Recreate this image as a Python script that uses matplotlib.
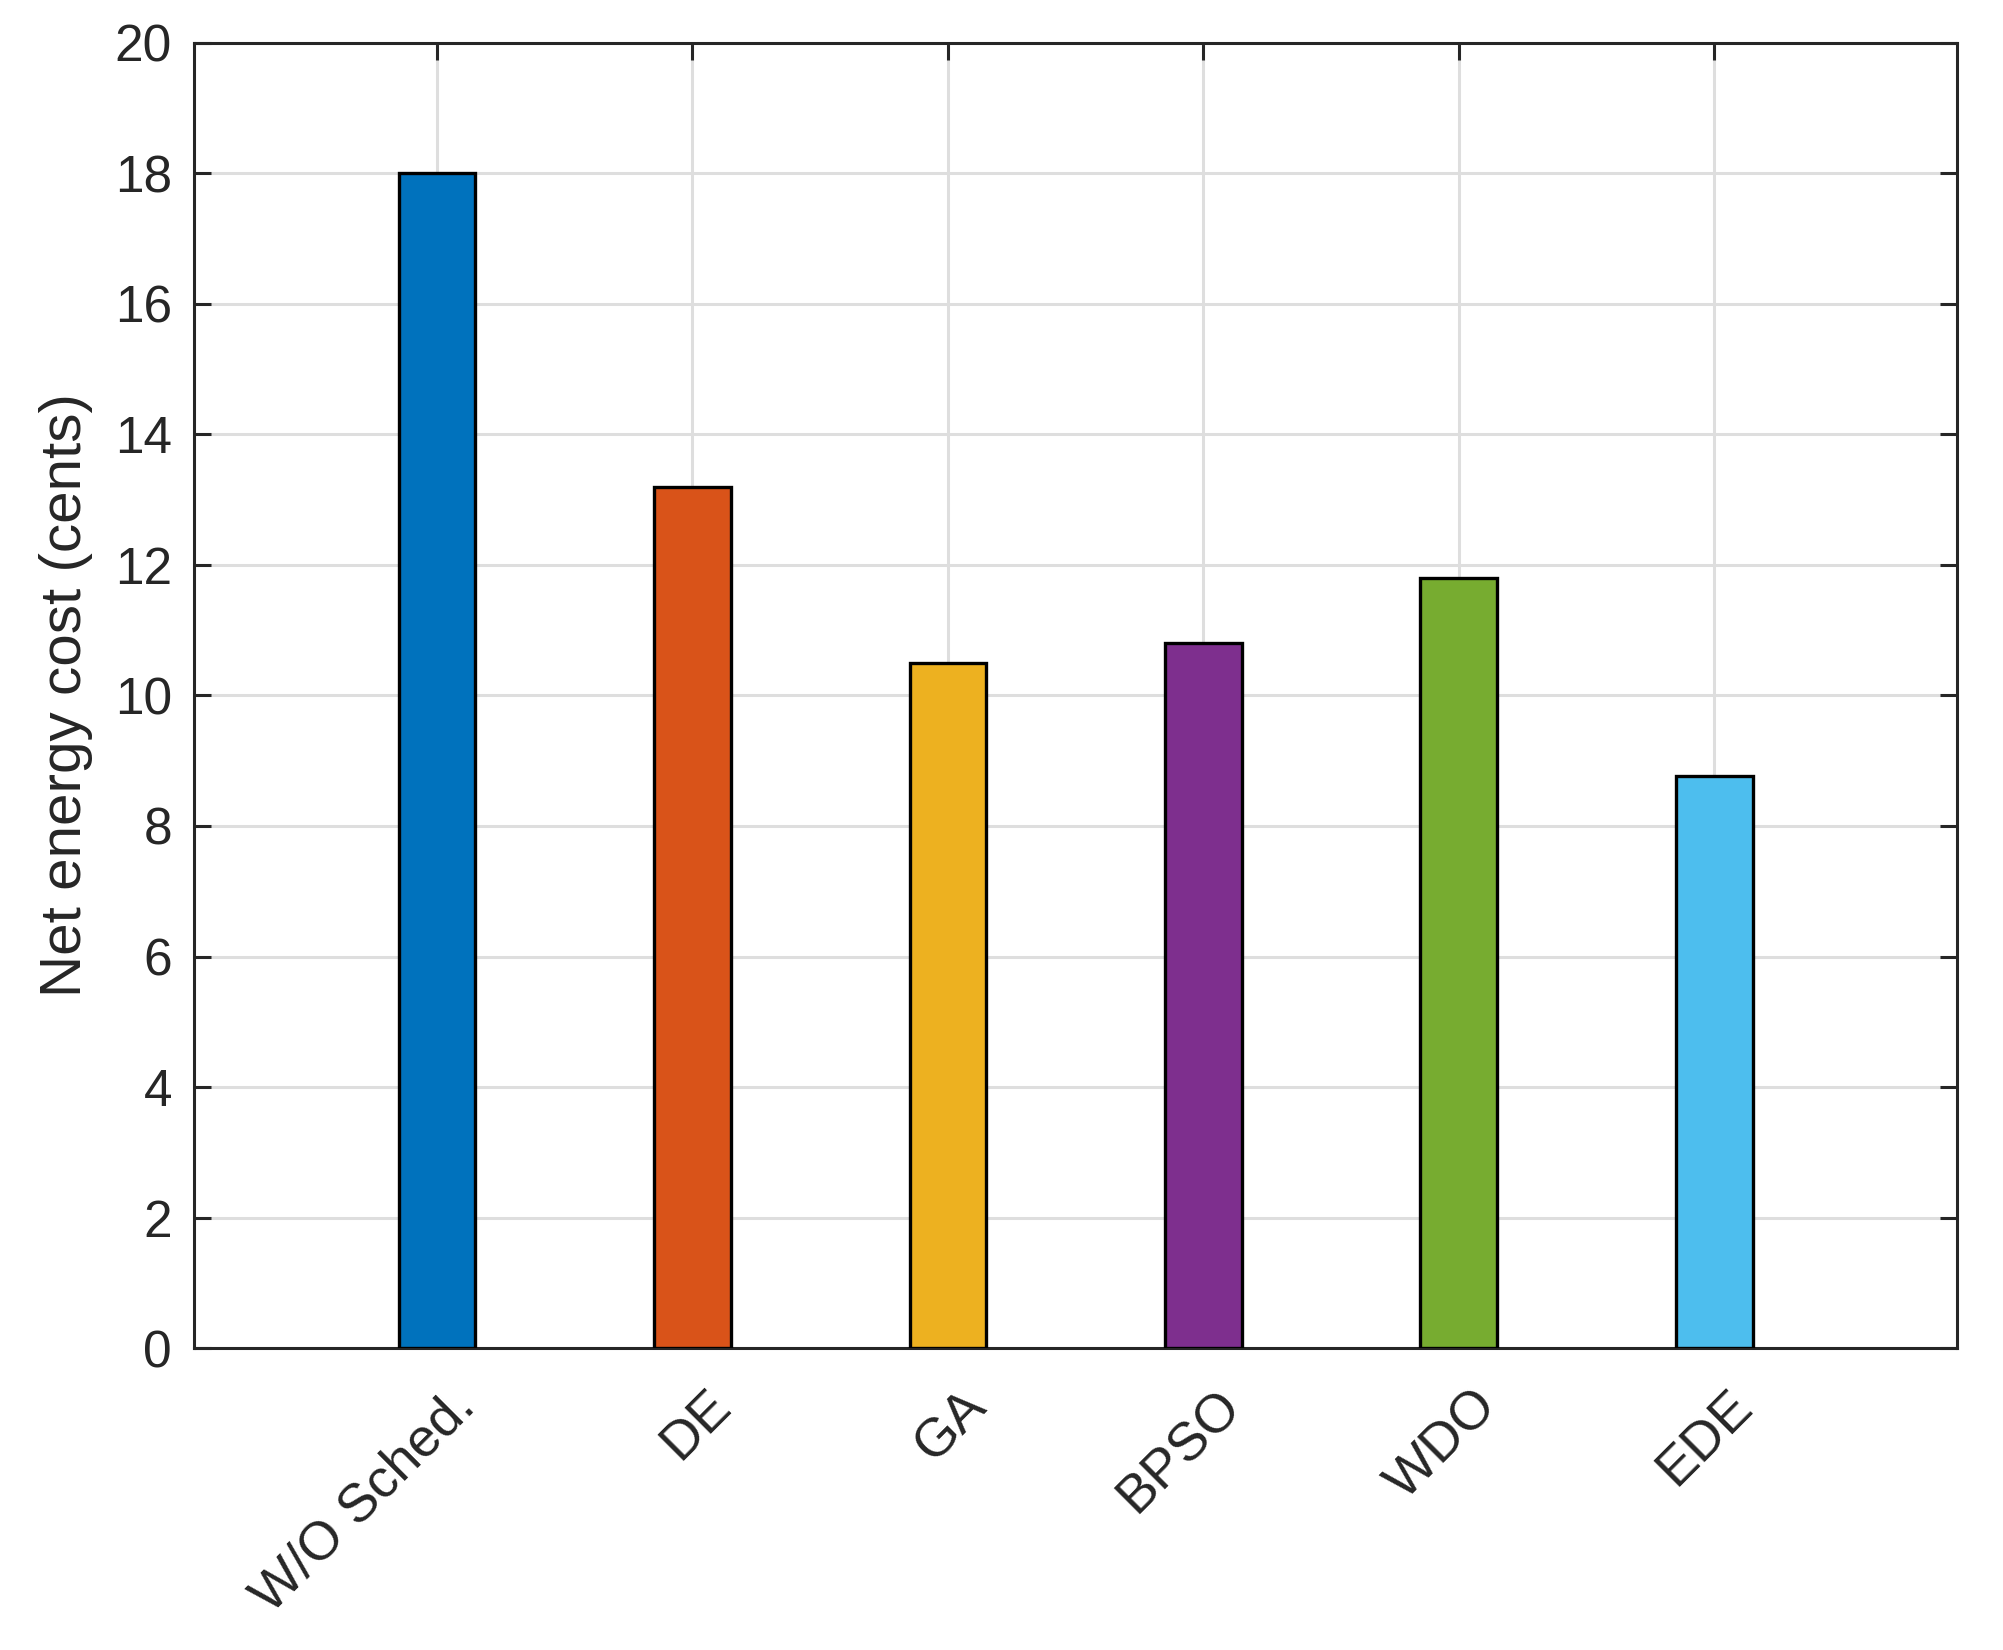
import numpy as np
import matplotlib
matplotlib.use('Agg')
import matplotlib.pyplot as plt
import matplotlib.transforms as mtransforms

# data
methods = ['W/O Sched.', 'DE', 'GA', 'BPSO', 'WDO', 'EDE']
cost = [18.0, 13.2, 10.5, 10.8, 11.8, 8.76]
colors = ['#0072BD', '#D95319', '#EDB120', '#7E2F8E', '#77AC30', '#4DBEEE']

plt.rcParams['font.family'] = ['Liberation Sans', 'DejaVu Sans']
txt = '#262626'

fig = plt.figure(figsize=(2003/200, 1650/200), dpi=200)
ax = fig.add_axes([0.097, 0.183, 0.880, 0.791])

x = np.arange(1, len(methods)+1)
ax.bar(x, cost, width=0.3, color=colors, edgecolor='black', linewidth=1.2, zorder=3)

ax.set_xlim(0.05, 6.95)
ax.set_ylim(0, 20)
ax.set_yticks(np.arange(0, 21, 2))
ax.set_xticks(x)
ax.set_xticklabels(methods, rotation=45, ha='right', va='center',
                   rotation_mode='anchor', fontsize=19.5)

ax.grid(True, color='#dedede', linewidth=1.1, zorder=0)
ax.set_axisbelow(True)
ax.tick_params(direction='in', length=6, width=1.1, colors=txt,
               labelsize=18.5, top=True, right=True, pad=8)
ax.tick_params(axis='x', pad=18, labelsize=19.5)
for s in ax.spines.values():
    s.set_linewidth(1.1)
    s.set_color(txt)

# nudge rotated labels right like the original
offset = mtransforms.ScaledTranslation(0.15, 0.0, fig.dpi_scale_trans)
for lab in ax.get_xticklabels():
    lab.set_transform(lab.get_transform() + offset)

ax.set_ylabel('Net energy cost (cents)', fontsize=21, color=txt, labelpad=8)

fig.savefig('out.png', dpi=200)
